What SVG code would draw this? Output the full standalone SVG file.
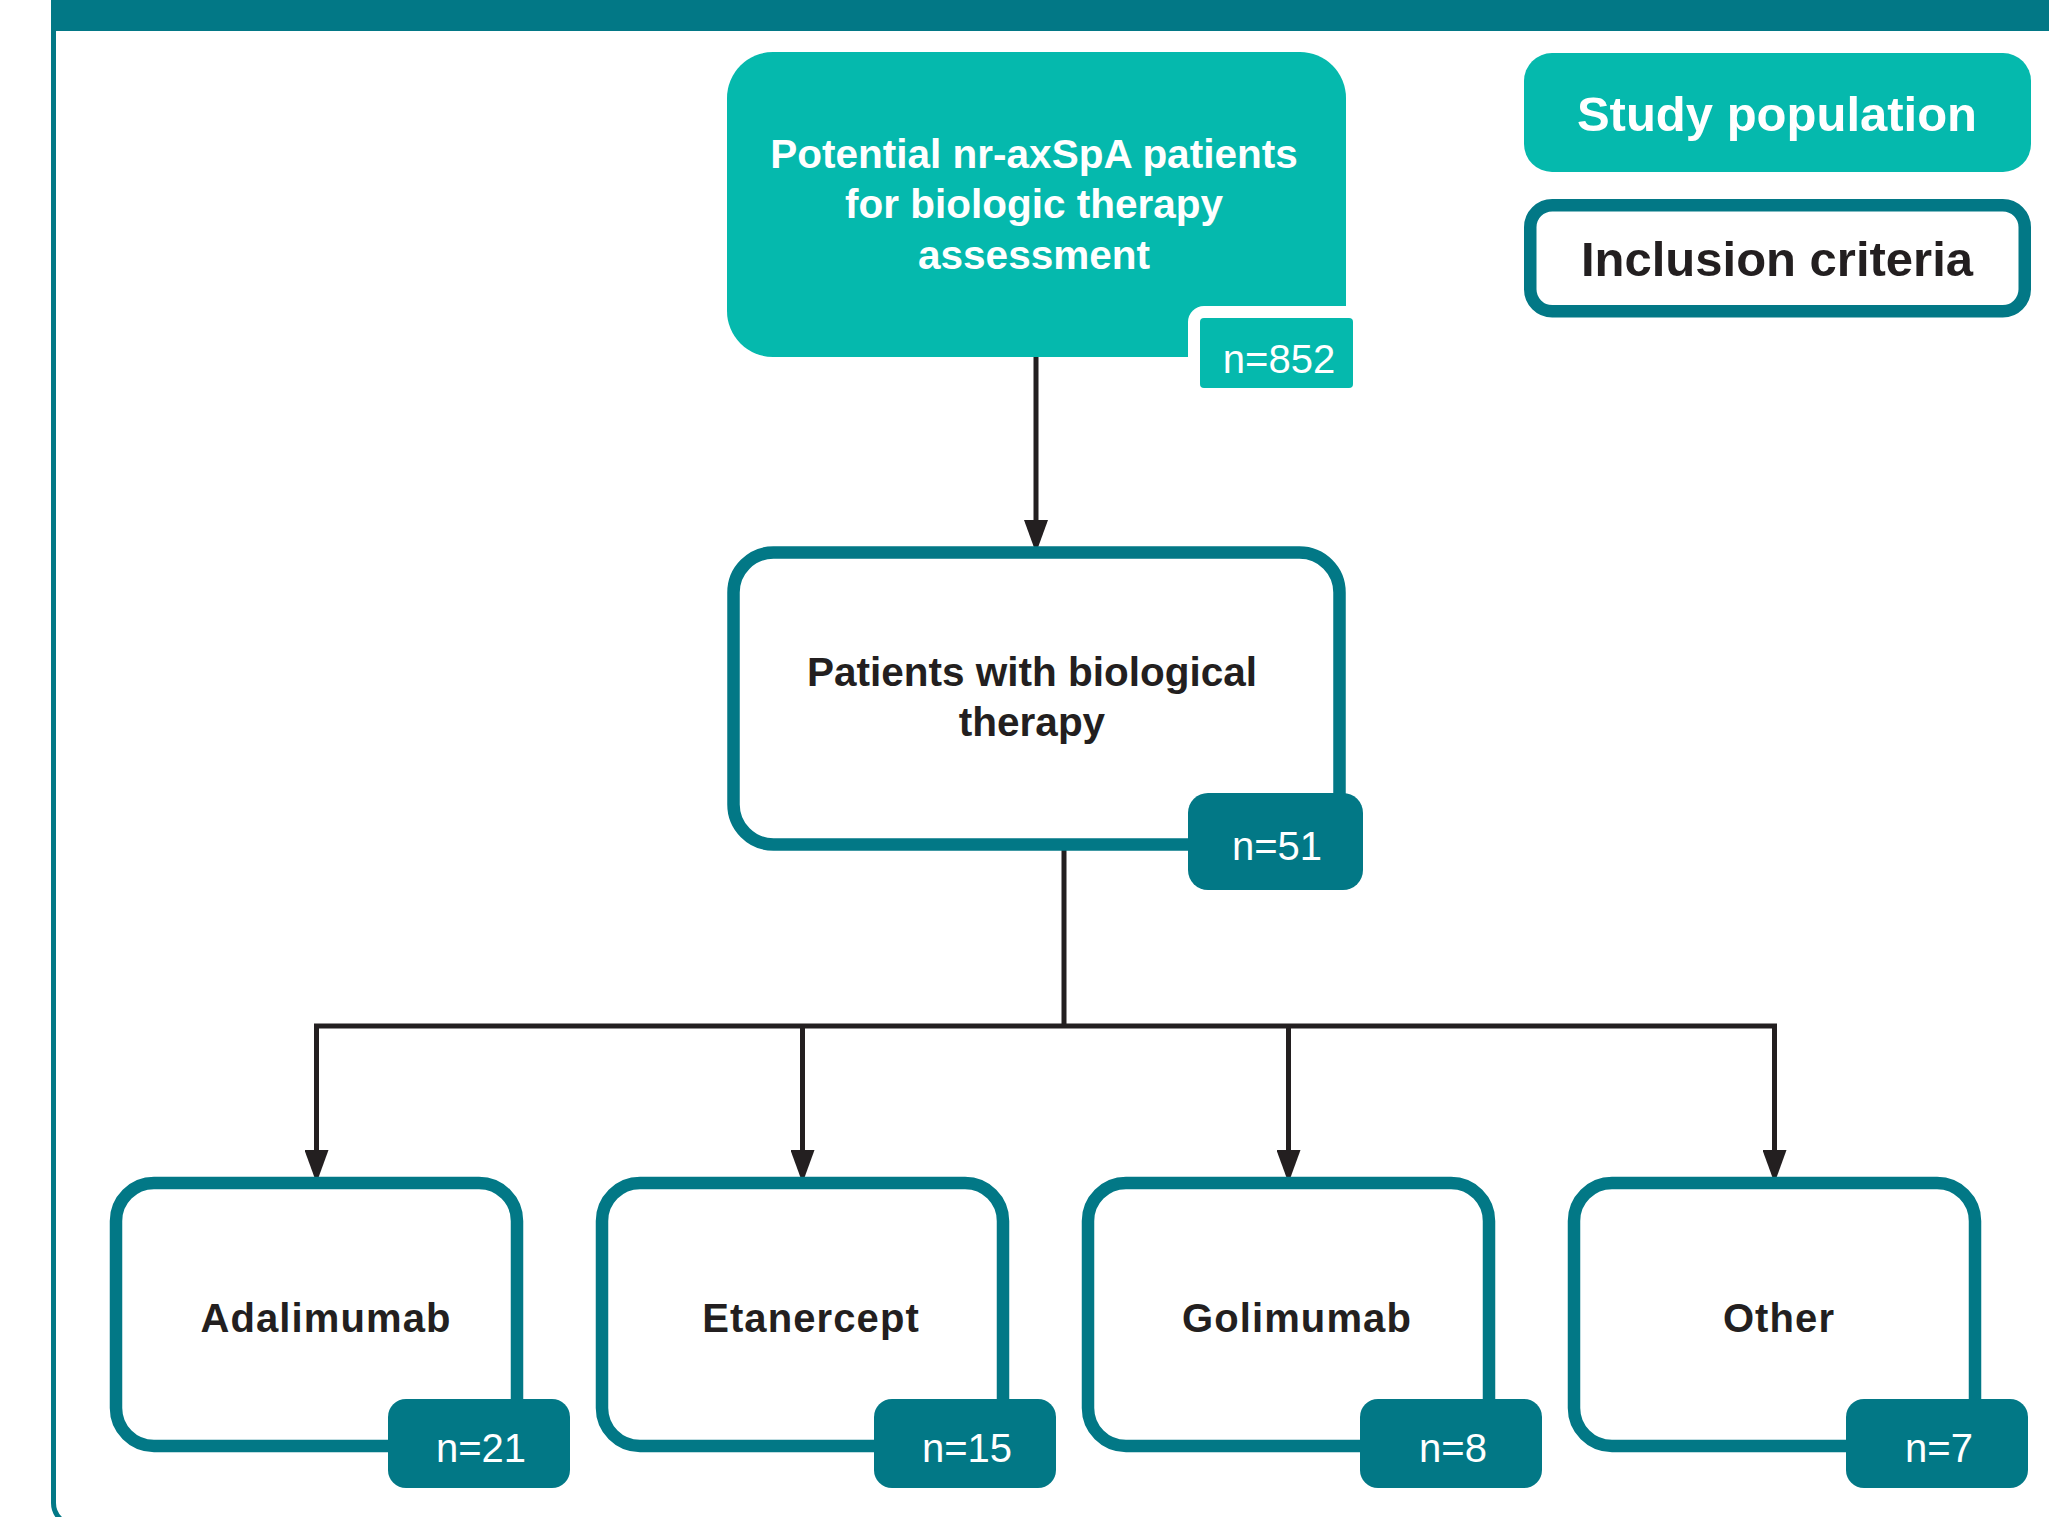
<svg xmlns="http://www.w3.org/2000/svg" width="2049" height="1517" viewBox="0 0 2049 1517">
<defs>
<style>
.bg{fill:#ffffff}
.frame{fill:none;stroke:#027886;stroke-width:5}
.hdr{fill:#027886}
.pop{fill:#05B9AD}
.inc{fill:#ffffff;stroke:#027886;stroke-width:12.5}
.lbl{fill:#027886}
.t{font-family:"Liberation Sans",Arial,sans-serif;text-anchor:middle}
.tw{fill:#ffffff;font-weight:bold}
.td{fill:#231F20;font-weight:bold}
.tn{fill:#ffffff;font-weight:normal;font-size:40px}
.conn{fill:none;stroke:#231F20;stroke-width:5;stroke-linejoin:miter;stroke-linecap:butt}
</style>
<marker id="arr" viewBox="0 0 33 24" refX="10" refY="12" markerWidth="33" markerHeight="24" markerUnits="userSpaceOnUse" orient="auto">
<path d="M0,0 L33,12 L0,24 Z" fill="#231F20"/>
</marker>
</defs>
<rect class="bg" x="0" y="0" width="2049" height="1517"/>
<g id="frame">
<rect class="frame" x="53.5" y="10" width="2100" height="1515" rx="22"/>
<rect class="hdr" x="51" y="-10" width="2010" height="41"/>
</g>
<g id="connectors">
<path class="conn" d="M1036,357 V530" marker-end="url(#arr)"/>
<path class="conn" d="M1064,845 V1026"/>
<path class="conn" d="M316.5,1160 V1026 H1774.5 V1160" marker-start="none" marker-end="url(#arr)"/>
<path class="conn" d="M316.5,1030 V1160" marker-end="url(#arr)"/>
<path class="conn" d="M802.5,1026 V1160" marker-end="url(#arr)"/>
<path class="conn" d="M1288.5,1026 V1160" marker-end="url(#arr)"/>
</g>
<g id="legend-study-population">
<rect class="pop" x="1524" y="53" width="507" height="119" rx="28"/>
<text class="t tw" x="1777" y="131" font-size="49">Study population</text>
</g>
<g id="legend-inclusion-criteria">
<rect class="inc" x="1530.25" y="205.25" width="494.5" height="106" rx="22"/>
<text class="t td" x="1777" y="276" font-size="49">Inclusion criteria</text>
</g>
<g id="node-potential">
<rect class="pop" x="727" y="52" width="619" height="305" rx="46"/>
<rect fill="#ffffff" x="1188" y="306" width="177" height="96" rx="16"/>
<rect class="pop" x="1200" y="318" width="153" height="70" rx="4"/>
<text class="t tw" x="1034" y="168" font-size="40.5">Potential nr-axSpA patients</text>
<text class="t tw" x="1034" y="218" font-size="40.5">for biologic therapy</text>
<text class="t tw" x="1034" y="269" font-size="40.5">assessment</text>
<text class="t tn" x="1279" y="373">n=852</text>
</g>
<g id="node-biological">
<rect class="inc" x="733.5" y="552.5" width="606" height="292" rx="40"/>
<rect class="lbl" x="1188" y="793" width="175" height="97" rx="20"/>
<text class="t td" x="1032" y="686" font-size="40.5">Patients with biological</text>
<text class="t td" x="1032" y="736" font-size="40.5">therapy</text>
<text class="t tn" x="1277" y="860">n=51</text>
</g>
<g id="node-adalimumab">
<rect class="inc" x="116" y="1183" width="401" height="263" rx="38"/>
<rect class="lbl" x="388" y="1399" width="182" height="89" rx="18"/>
<text class="t td" x="326" y="1332" font-size="40" letter-spacing="1.1">Adalimumab</text>
<text class="t tn" x="481" y="1462">n=21</text>
</g>
<g id="node-etanercept">
<rect class="inc" x="602" y="1183" width="401" height="263" rx="38"/>
<rect class="lbl" x="874" y="1399" width="182" height="89" rx="18"/>
<text class="t td" x="811" y="1332" font-size="40" letter-spacing="1.1">Etanercept</text>
<text class="t tn" x="967" y="1462">n=15</text>
</g>
<g id="node-golimumab">
<rect class="inc" x="1088" y="1183" width="401" height="263" rx="38"/>
<rect class="lbl" x="1360" y="1399" width="182" height="89" rx="18"/>
<text class="t td" x="1297" y="1332" font-size="40" letter-spacing="1.1">Golimumab</text>
<text class="t tn" x="1453" y="1462">n=8</text>
</g>
<g id="node-other">
<rect class="inc" x="1574" y="1183" width="401" height="263" rx="38"/>
<rect class="lbl" x="1846" y="1399" width="182" height="89" rx="18"/>
<text class="t td" x="1779" y="1332" font-size="40" letter-spacing="1.1">Other</text>
<text class="t tn" x="1939" y="1462">n=7</text>
</g>
</svg>
